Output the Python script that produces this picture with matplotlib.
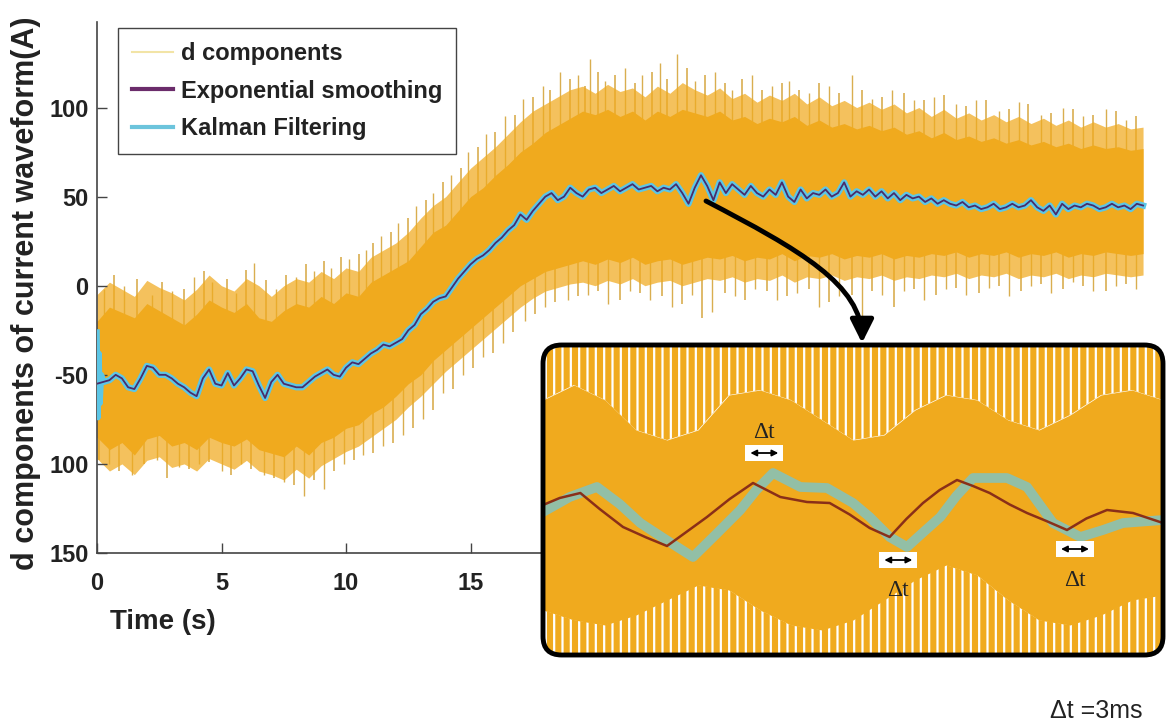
import numpy as np
import matplotlib
matplotlib.use("Agg")
import matplotlib.pyplot as plt
from matplotlib.patches import FancyBboxPatch, FancyArrowPatch, Rectangle
from matplotlib.lines import Line2D
from matplotlib.path import Path

plt.rcParams['font.family'] = ['Liberation Sans', 'DejaVu Sans']
plt.rcParams['hatch.linewidth'] = 1.6

# ---------------- main record (0 .. 42 s) ----------------
# smoothed d-axis current, one value every 0.25 s
smooth_step = 0.25
smooth_main = [
    -55, -54, -53, -50, -52, -57, -58, -52, -45, -46, -50, -50,      # 0 - 2.75
    -52, -55, -57, -60, -62, -52, -47, -55, -56, -49, -56, -52,      # 3 - 5.75
    -47, -48, -56, -63, -54, -50, -55, -56, -57, -57, -54, -51,      # 6 - 8.75
    -49, -47, -50, -51, -46, -43, -44, -41, -38, -36, -33, -34,      # 9 - 11.75
    -32, -30, -25, -22, -16, -13, -9, -7, -6, -1, 4, 8,              # 12 - 14.75
    12, 15, 17, 20, 24, 27, 31, 34, 40, 37, 42, 46,                  # 15 - 17.75
    50, 52, 48, 50, 55, 52, 50, 54, 55, 52, 54, 56,                  # 18 - 20.75
    53, 55, 57, 54, 55, 56, 53, 55, 54, 57, 52, 46,                  # 21 - 23.75
    55, 62, 56, 48, 58, 52, 57, 54, 51, 56, 52, 50,                  # 24 - 26.75
    54, 51, 58, 50, 47, 54, 49, 52, 51, 54, 50, 52,                  # 27 - 29.75
    58, 50, 53, 51, 54, 50, 53, 49, 52, 48, 51, 49,                  # 30 - 32.75
    50, 47, 49, 46, 48, 46, 45, 47, 44, 45, 43, 44,                  # 33 - 35.75
    46, 43, 44, 46, 44, 45, 48, 44, 42, 45, 40, 46,                  # 36 - 38.75
    43, 45, 44, 46, 45, 43, 44, 46, 44, 45, 43, 46,                  # 39 - 41.75
    45,                                                              # 42
]
kalman_main = list(smooth_main)
# start-up transient of the Kalman estimate
kalman_start_t = [0.0, 0.04, 0.08, 0.12, 0.18, 0.25]
kalman_start_v = [-26, -74, -38, -66, -50, -54]

# raw d component, sampled every 0.5 s: dense core and fuzzy outer edge
band_step = 0.5
band_upper = [
    -20, -12, -15, -18, -10, -14, -18, -22, -16, -8, -12, -15,
    -10, -18, -20, -14, -10, -12, -6, -10, -4, -6, 2, 6,
    10, 14, 22, 30, 34, 42, 50, 55, 62, 68, 75, 80,
    86, 90, 94, 98, 96, 99, 95, 98, 93, 98, 95, 99,
    97, 95, 98, 93, 95, 91, 94, 92, 95, 90, 93, 89,
    91, 88, 90, 87, 89, 85, 87, 83, 86, 82, 84, 81,
    83, 80, 82, 79, 81, 78, 80, 77, 79, 77, 78, 76,
    77,
]
band_lower = [
    -85, -92, -88, -95, -86, -84, -90, -88, -92, -85, -88, -90,
    -86, -92, -94, -96, -90, -95, -88, -85, -80, -78, -72, -68,
    -62, -55, -50, -42, -36, -30, -24, -18, -12, -6, 0, 4,
    8, 10, 12, 14, 12, 15, 13, 16, 12, 14, 15, 12,
    14, 16, 15, 17, 14, 16, 15, 18, 14, 17, 16, 18,
    15, 17, 16, 18, 15, 17, 16, 18, 17, 19, 16, 18,
    17, 19, 16, 18, 17, 19, 16, 18, 17, 19, 18, 17,
    18,
]
fringe_upper = [
    -5, 2, -2, -6, 3, -1, -4, -8, -2, 6, 0, -3,
    4, 0, -6, 0, 4, 2, 8, 4, 10, 8, 16, 20,
    24, 30, 38, 45, 50, 58, 66, 72, 78, 85, 92, 98,
    102, 106, 110, 112, 108, 113, 109, 111, 106, 112, 108, 114,
    110, 107, 111, 105, 108, 103, 107, 104, 108, 102, 106, 101,
    104, 100, 103, 99, 102, 97, 100, 95, 99, 94, 97, 93,
    96, 92, 95, 91, 94, 90, 93, 89, 92, 89, 91, 88,
    89,
]
fringe_lower = [
    -97, -104, -100, -106, -98, -96, -102, -100, -104, -97, -100, -103,
    -98, -104, -106, -109, -103, -108, -101, -97, -93, -90, -85, -80,
    -75, -68, -62, -55, -48, -42, -36, -30, -24, -18, -12, -7,
    -3, -1, 1, 2, 0, 3, 1, 4, 0, 2, 3, 0,
    2, 4, 3, 5, 2, 4, 3, 6, 2, 5, 4, 6,
    3, 5, 4, 6, 3, 5, 4, 6, 5, 7, 4, 6,
    5, 7, 4, 6, 5, 7, 4, 6, 5, 7, 6, 5,
    6,
]
# isolated spikes outside the dense band (tall and medium)
spike_up_t = [0.3, 1.1, 2.2, 3.0, 3.9, 4.6, 5.6, 6.3, 7.2, 8.0, 8.7, 9.4,
              10.1, 10.8, 11.4, 12.1, 12.8, 13.5, 14.2, 14.9, 15.6, 16.4,
              17.1, 17.9, 18.6, 19.3, 19.8, 20.4, 21.2, 21.9, 22.6, 23.3,
              24.0, 24.8, 25.5, 26.3, 27.1, 27.8, 28.6, 29.4, 30.3, 31.1,
              31.9, 32.8, 33.6, 34.5, 35.3, 36.2, 37.0, 37.9, 38.8, 39.6,
              40.5, 41.3]
spike_up_v = [-2, 0, -5, -3, 5, 2, -4, 13, -2, 5, 8, 10,
              15, 20, 28, 35, 45, 52, 62, 75, 85, 95,
              105, 112, 120, 118, 127, 115, 122, 118, 125, 130,
              115, 120, 110, 118, 112, 115, 108, 112, 118, 105,
              110, 104, 106, 102, 104, 98, 103, 96, 100, 95,
              99, 93]
spike2_up_t = [0.7, 1.6, 2.6, 3.5, 4.3, 5.2, 6.0, 6.8, 7.6, 8.4, 9.1, 9.8,
               10.5, 11.1, 11.8, 12.5, 13.2, 13.9, 14.6, 15.3, 16.0, 16.8,
               17.5, 18.2, 19.0, 19.6, 20.1, 20.8, 21.6, 22.3, 22.9, 23.7,
               24.4, 25.2, 25.9, 26.7, 27.5, 28.2, 29.0, 29.8, 30.7, 31.5,
               32.4, 33.2, 34.0, 34.9, 35.7, 36.6, 37.4, 38.3, 39.2, 40.0,
               40.9, 41.7]
spike2_up_v = [6, 4, 2, -2, 8, 4, 9, 3, 6, 12, 14, 16,
               18, 24, 30, 38, 48, 58, 66, 78, 86, 96,
               106, 110, 116, 112, 120, 118, 114, 120, 116, 122,
               118, 114, 116, 110, 114, 110, 114, 108, 110, 106,
               108, 104, 107, 101, 104, 99, 102, 97, 99, 96,
               98, 95]
spike_dn_t = [0.5, 1.4, 2.4, 3.3, 4.1, 5.0, 5.8, 6.7, 7.5, 8.3, 9.1, 9.9,
              10.7, 11.5, 12.3, 13.1, 13.9, 14.7, 15.5, 16.3, 17.2, 18.0,
              18.9, 19.7, 20.5, 21.4, 22.2, 23.1, 23.9, 24.7, 25.6, 26.4,
              27.3, 28.1, 29.0, 29.8, 30.7, 31.5, 32.4, 33.2, 34.1, 34.9,
              35.8, 36.6, 37.5, 38.3, 39.2, 40.0, 40.9, 41.7]
spike_dn_v = [-100, -106, -98, -102, -100, -104, -100, -106, -110, -118, -114, -100,
              -95, -90, -84, -75, -60, -50, -40, -32, -20, -12,
              -8, -5, -10, -3, -8, -12, -5, -15, -6, -2,
              -8, -4, -12, -6, -20, -5, -3, -8, -2, -5,
              -1, -6, 0, -4, 2, -3, 0, -2]
spike2_dn_t = [0.1, 0.9, 1.9, 2.8, 3.7, 4.5, 5.4, 6.2, 7.1, 7.9, 8.7, 9.5,
               10.3, 11.1, 11.9, 12.7, 13.5, 14.3, 15.1, 15.9, 16.7, 17.6,
               18.4, 19.3, 20.1, 21.0, 21.8, 22.7, 23.5, 24.3, 25.2, 26.0,
               26.9, 27.7, 28.6, 29.4, 30.3, 31.1, 32.0, 32.8, 33.7, 34.5,
               35.4, 36.2, 37.1, 37.9, 38.8, 39.6, 40.5, 41.3]
spike2_dn_v = [-98, -104, -100, -108, -103, -99, -106, -103, -108, -112, -109, -104,
               -98, -94, -88, -80, -70, -58, -46, -38, -26, -16,
               -9, -6, -3, -8, -4, -6, -10, -18, -4, -8,
               -3, -6, -2, -9, -5, -3, -12, -2, -5, -1,
               -4, 0, -3, 1, -2, 0, -3, 1]

y_ticks = [-150, -100, -50, 0, 50, 100]
y_tick_labels = ['150', '100', '-50', '0', '50', '100']
x_ticks = [0, 5, 10, 15]

# ---------------- zoomed window (ms) ----------------
zoom_exp_t = [0.0, 2.5, 5.6, 8.5, 12.0, 15.5, 18.6, 21.5, 24.6, 28.0, 31.5,
              35.6, 39.6, 43.0, 46.0, 49.0, 52.0, 54.5, 57.0, 59.5, 62.1,
              64.5, 67.0, 70.0, 72.6, 75.5, 78.6, 81.5, 84.6, 88.5, 93.0]
zoom_exp = [50.0, 51.4, 52.4, 49.2, 45.6, 43.5, 41.8, 44.6, 47.6, 51.2, 54.4,
            51.6, 50.6, 50.4, 48.1, 45.4, 43.6, 47.2, 50.4, 53.0, 55.0,
            53.8, 52.4, 50.1, 48.4, 46.8, 45.0, 47.3, 49.0, 48.4, 46.4]
zoom_kal_t = [0.0, 4.0, 8.1, 11.5, 14.6, 18.5, 22.5, 26.0, 29.6, 32.0, 34.5,
              38.6, 42.6, 46.5, 49.0, 52.0, 54.6, 57.0, 59.6, 62.0, 64.5,
              69.6, 72.6, 76.5, 80.6, 84.0, 87.0, 93.0]
zoom_kal = [48.6, 51.6, 53.6, 50.2, 46.4, 43.0, 39.6, 44.2, 49.0, 53.0, 56.4,
            53.6, 53.4, 50.4, 47.6, 43.6, 41.6, 44.5, 47.6, 51.8, 55.4,
            55.4, 53.6, 46.4, 43.6, 45.0, 46.4, 47.0]
zoom_band_t = [0.0, 4.65, 9.3, 13.95, 18.6, 23.25, 27.9, 32.55, 37.2, 41.85,
               46.5, 51.15, 55.8, 60.45, 65.1, 69.75, 74.4, 79.05, 83.7,
               88.35, 93.0]
zoom_upper = [71, 74, 71, 65, 63, 65, 72, 73, 71, 67, 63,
              64, 69, 72, 71, 67, 65, 68, 72, 73, 71]
zoom_lower = [29, 27, 26, 28, 31, 34, 33, 29, 26, 25, 27,
              31, 35, 38, 36, 31, 27, 26, 28, 31, 32]
zoom_ylim = (20, 82)
# lag markers: box centre and label position
dt_box_x = [33.2, 53.3, 79.8]
dt_box_y = [60.4, 39.0, 41.2]
dt_text_y = [64.6, 32.8, 34.8]

ORANGE = '#F0AA1E'
SPIKE = '#D9AE50'
KAL_MAIN = '#5CC6E6'
EXP_MAIN = '#4A2C6A'

W, H = 1166, 724
fig = plt.figure(figsize=(W / 100, H / 100), dpi=100)


def fx(px):
    return px / W


def fy(py):
    return 1 - py / H


ax = fig.add_axes([fx(97), fy(553), 1061 / W, 531 / H])

t_band = np.arange(len(band_upper)) * band_step
t_smooth = np.arange(len(smooth_main)) * smooth_step
assert len(band_upper) == len(band_lower) == len(fringe_upper) == len(fringe_lower)

# fuzzy edge of the raw signal, then the dense core
ax.fill_between(t_band, fringe_lower, fringe_upper, color=ORANGE, alpha=0.72,
                lw=0, zorder=1)
ax.fill_between(t_band, band_lower, band_upper, color=ORANGE, lw=0, zorder=1.2)
for st, sv, lw in [(spike_up_t, spike_up_v, 1.0), (spike2_up_t, spike2_up_v, 1.2)]:
    ax.vlines(st, np.interp(st, t_smooth, smooth_main), sv, color=SPIKE, lw=lw,
              zorder=0.9)
for st, sv, lw in [(spike_dn_t, spike_dn_v, 1.0), (spike2_dn_t, spike2_dn_v, 1.2)]:
    ax.vlines(st, sv, np.interp(st, t_smooth, smooth_main), color=SPIKE, lw=lw,
              zorder=0.9)

ax.plot(kalman_start_t, kalman_start_v, color=KAL_MAIN, lw=4, zorder=3)
ax.plot(t_smooth, kalman_main, color=KAL_MAIN, lw=4.5, zorder=3)
ax.plot(t_smooth, smooth_main, color=EXP_MAIN, lw=1.3, zorder=4)

ax.set_xlim(0, 42.6)
ax.set_ylim(-150, 148)
ax.set_xticks(x_ticks)
ax.set_yticks(y_ticks)
ax.set_yticklabels(y_tick_labels)
for side in ['top', 'right']:
    ax.spines[side].set_visible(False)
for side in ['left', 'bottom']:
    ax.spines[side].set_color('#444444')
    ax.spines[side].set_linewidth(1.2)
ax.tick_params(direction='in', length=7, width=1, colors='#444444',
               labelcolor='#222222', labelsize=17)
ax.tick_params(axis='x', pad=14)
ax.tick_params(axis='y', pad=6)
for lbl in ax.get_xticklabels() + ax.get_yticklabels():
    lbl.set_fontweight('bold')

ax.set_xlabel('Time (s)', fontsize=20, fontweight='bold', color='#222222')
ax.xaxis.set_label_coords(0.062, -0.105)
ax.set_ylabel('d components of current waveform(A)', fontsize=22,
              fontweight='bold', color='#222222')
ax.yaxis.set_label_coords(-0.053, 0.49)

handles = [Line2D([], [], color='#F2E4A6', lw=1.5),
           Line2D([], [], color='#6B2C6B', lw=3),
           Line2D([], [], color='#6CC4DC', lw=3)]
leg = ax.legend(handles, ['d components', 'Exponential smoothing', 'Kalman Filtering'],
                loc='upper left', bbox_to_anchor=(0.0198, 0.989), borderaxespad=0,
                fancybox=False, edgecolor='#444444', framealpha=1,
                prop={'size': 17, 'weight': 'bold'}, handlelength=1.75,
                handletextpad=0.3, labelspacing=0.62, borderpad=0.6)
leg.get_frame().set_linewidth(1.0)
for txt in leg.get_texts():
    txt.set_color('#222222')

# ---------------- zoomed inset ----------------
ax_in = fig.add_axes([fx(543), fy(655), 620 / W, 310 / H])
ax_in.set_xlim(zoom_band_t[0], zoom_band_t[-1])
ax_in.set_ylim(*zoom_ylim)
ax_in.set_xticks([])
ax_in.set_yticks([])
for s in ax_in.spines.values():
    s.set_visible(False)
ax_in.patch.set_visible(False)

box_kw = dict(boxstyle='round,pad=0,rounding_size=0.03', mutation_aspect=2,
              transform=ax_in.transAxes)
bg = FancyBboxPatch((0, 0), 1, 1, fc='white', ec='none', zorder=0, **box_kw)
ax_in.add_patch(bg)
clip = FancyBboxPatch((0, 0), 1, 1, fc='none', ec='none', **box_kw)
ax_in.add_patch(clip)

top_fill = ax_in.fill_between(zoom_band_t, zoom_upper, zoom_ylim[1], facecolor=ORANGE,
                              hatch='||', edgecolor='white', lw=0, zorder=1)
bot_fill = ax_in.fill_between(zoom_band_t, zoom_ylim[0], zoom_lower, facecolor=ORANGE,
                              hatch='||', edgecolor='white', lw=0, zorder=1)
core = ax_in.fill_between(zoom_band_t, zoom_lower, zoom_upper, color=ORANGE, lw=0,
                          zorder=1.5)
for art in (top_fill, bot_fill, core):
    art.set_clip_path(clip)

ax_in.plot(zoom_kal_t, zoom_kal, color='#92BFA6', lw=7, solid_capstyle='round',
           solid_joinstyle='round', zorder=3)
ax_in.plot(zoom_exp_t, zoom_exp, color='#8A2F18', lw=1.8, zorder=4)

for bx, by, ty in zip(dt_box_x, dt_box_y, dt_text_y):
    ax_in.add_patch(Rectangle((bx - 2.85, by - 1.6), 5.7, 3.2, fc='white', ec='none',
                              zorder=6))
    ax_in.annotate('', xy=(bx + 2.1, by), xytext=(bx - 2.1, by),
                   arrowprops=dict(arrowstyle='<|-|>', color='black', lw=1.3,
                                   mutation_scale=9, shrinkA=0, shrinkB=0),
                   zorder=7)
    ax_in.text(bx, ty, '\u0394t', ha='center', va='center', fontsize=17,
               family=['Liberation Serif', 'DejaVu Serif'], color='#222222', zorder=7)

border = FancyBboxPatch((0, 0), 1, 1, fc='none', ec='black', lw=3.5, zorder=10,
                        clip_on=False, **box_kw)
ax_in.add_patch(border)

# curved pointer from the main trace down to the inset
verts = [(fx(706), fy(201)), (fx(800), fy(250)), (fx(862), fy(285)), (fx(862), fy(343))]
codes = [Path.MOVETO, Path.CURVE4, Path.CURVE4, Path.CURVE4]
arrow = FancyArrowPatch(path=Path(verts, codes), arrowstyle='-|>,head_length=0.7,head_width=0.35',
                        mutation_scale=20, lw=3.5, color='black',
                        transform=fig.transFigure, zorder=20)
fig.add_artist(arrow)

fig.text(fx(1096), fy(711), '\u0394t =3ms', ha='center', va='center', fontsize=18,
         color='#222222')

fig.savefig('out.png', dpi=100)
